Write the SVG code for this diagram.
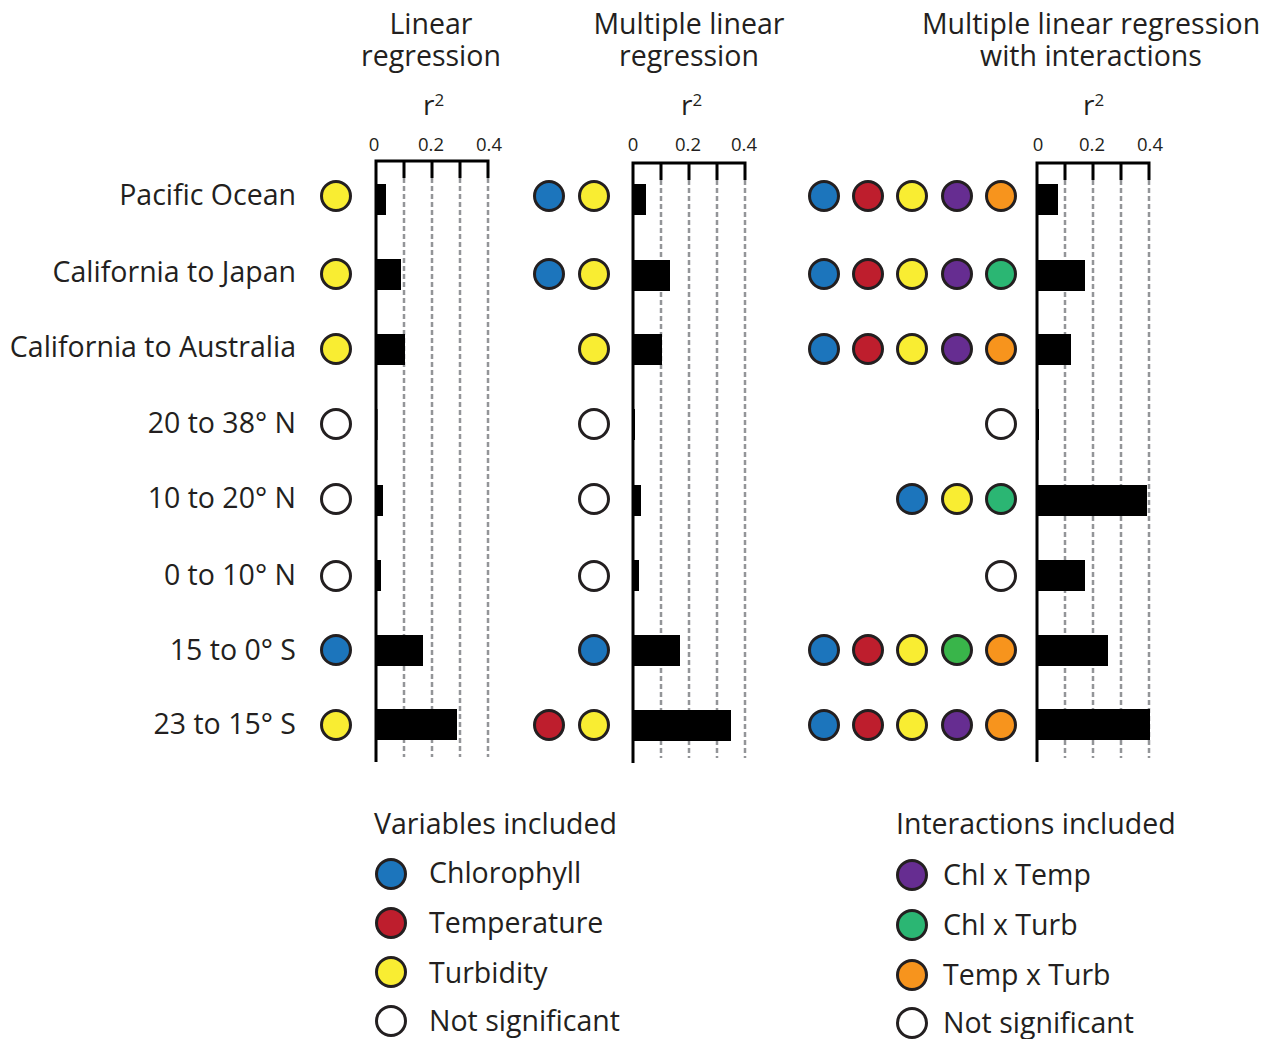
<svg xmlns="http://www.w3.org/2000/svg" width="1266" height="1039" viewBox="0 0 1266 1039">
<style>
text{font-family:"Open Sans","Liberation Sans",Arial,sans-serif;fill:#231f20}
.h{font-size:28.5px;text-anchor:middle}
.lab{font-size:28.5px;text-anchor:end}
.tk{font-size:18.5px;text-anchor:middle}
.rr{font-size:28px}
.leg{font-size:28.5px}
.ax{stroke:#000;stroke-width:3;fill:none}
.grid{stroke:#939598;stroke-width:2.5;stroke-dasharray:5 3;fill:none}
.bar{fill:#000}
.c{stroke:#231f20;stroke-width:3}
.bl{fill:#1c75bc}.rd{fill:#be1e2d}.ye{fill:#f9ed32}.pu{fill:#662d91}.or{fill:#f7941d}.tg{fill:#2bb673}.gr{fill:#39b54a}.wh{fill:#fff}
</style>
<rect width="1266" height="1039" fill="#fff"/>
<g id="headers">
<text class="h"><tspan x="431" y="34">Linear</tspan><tspan x="431" y="66">regression</tspan></text>
<text class="h"><tspan x="689" y="34">Multiple linear</tspan><tspan x="689" y="66">regression</tspan></text>
<text class="h"><tspan x="1091" y="34">Multiple linear regression</tspan><tspan x="1091" y="66">with interactions</tspan></text>
<text class="rr" x="423" y="115">r<tspan font-size="17" dy="-9">2</tspan></text>
<text class="rr" x="681" y="115">r<tspan font-size="17" dy="-9">2</tspan></text>
<text class="rr" x="1083" y="115">r<tspan font-size="17" dy="-9">2</tspan></text>
</g>
<g id="row-labels">
<text class="lab" x="296" y="205">Pacific Ocean</text>
<text class="lab" x="296" y="282">California to Japan</text>
<text class="lab" x="296" y="357">California to Australia</text>
<text class="lab" x="296" y="433">20 to 38° N</text>
<text class="lab" x="296" y="508">10 to 20° N</text>
<text class="lab" x="296" y="585">0 to 10° N</text>
<text class="lab" x="296" y="660">15 to 0° S</text>
<text class="lab" x="296" y="734">23 to 15° S</text>
</g>
<g id="panel1">
<path class="grid" d="M404 178V757M432 178V757M460 178V757M488 178V757"/>
<path class="ax" d="M376 161V762M374.5 161H489.5M404 161V178M432 161V178M460 161V178M488 161V178"/>
<text class="tk" x="374" y="151">0</text>
<text class="tk" x="431" y="151">0.2</text>
<text class="tk" x="489" y="151">0.4</text>
<rect class="bar" x="376" y="184" width="10" height="31"/>
<rect class="bar" x="376" y="259" width="25" height="31"/>
<rect class="bar" x="376" y="334" width="29" height="31"/>
<rect class="bar" x="376" y="409" width="1.5" height="31"/>
<rect class="bar" x="376" y="485" width="7" height="31"/>
<rect class="bar" x="376" y="560" width="5" height="31"/>
<rect class="bar" x="376" y="635" width="47" height="31"/>
<rect class="bar" x="376" y="709" width="81" height="31"/>
<circle class="c ye" cx="336" cy="196" r="14.5"/>
<circle class="c ye" cx="336" cy="274" r="14.5"/>
<circle class="c ye" cx="336" cy="349" r="14.5"/>
<circle class="c wh" cx="336" cy="424" r="14.5"/>
<circle class="c wh" cx="336" cy="499" r="14.5"/>
<circle class="c wh" cx="336" cy="576" r="14.5"/>
<circle class="c bl" cx="336" cy="650" r="14.5"/>
<circle class="c ye" cx="336" cy="725" r="14.5"/>
</g>
<g id="panel2">
<path class="grid" d="M661 180V758M689 180V758M717 180V758M745 180V758"/>
<path class="ax" d="M633 163V763M631.5 163H746.5M661 163V180M689 163V180M717 163V180M745 163V180"/>
<text class="tk" x="633" y="151">0</text>
<text class="tk" x="688" y="151">0.2</text>
<text class="tk" x="744" y="151">0.4</text>
<rect class="bar" x="633" y="184" width="13" height="31"/>
<rect class="bar" x="633" y="260" width="37" height="31"/>
<rect class="bar" x="633" y="334" width="29" height="31"/>
<rect class="bar" x="633" y="409" width="2" height="31"/>
<rect class="bar" x="633" y="485" width="8" height="31"/>
<rect class="bar" x="633" y="560" width="6" height="31"/>
<rect class="bar" x="633" y="635" width="47" height="31"/>
<rect class="bar" x="633" y="710" width="98" height="31"/>
<circle class="c bl" cx="549" cy="196" r="14.5"/>
<circle class="c ye" cx="594" cy="196" r="14.5"/>
<circle class="c bl" cx="549" cy="274" r="14.5"/>
<circle class="c ye" cx="594" cy="274" r="14.5"/>
<circle class="c ye" cx="594" cy="349" r="14.5"/>
<circle class="c wh" cx="594" cy="424" r="14.5"/>
<circle class="c wh" cx="594" cy="499" r="14.5"/>
<circle class="c wh" cx="594" cy="576" r="14.5"/>
<circle class="c bl" cx="594" cy="650" r="14.5"/>
<circle class="c rd" cx="549" cy="725" r="14.5"/>
<circle class="c ye" cx="594" cy="725" r="14.5"/>
</g>
<g id="panel3">
<path class="grid" d="M1065 180V758M1093 180V758M1121 180V758M1149 180V758"/>
<path class="ax" d="M1037 163V762M1035.5 163H1150.5M1065 163V180M1093 163V180M1121 163V180M1149 163V180"/>
<text class="tk" x="1038" y="151">0</text>
<text class="tk" x="1092" y="151">0.2</text>
<text class="tk" x="1150" y="151">0.4</text>
<rect class="bar" x="1037" y="184" width="21" height="31"/>
<rect class="bar" x="1037" y="260" width="48" height="31"/>
<rect class="bar" x="1037" y="334" width="34" height="31"/>
<rect class="bar" x="1037" y="409" width="2" height="31"/>
<rect class="bar" x="1037" y="485" width="110" height="31"/>
<rect class="bar" x="1037" y="560" width="48" height="31"/>
<rect class="bar" x="1037" y="635" width="71" height="31"/>
<rect class="bar" x="1037" y="709" width="113" height="31"/>
<circle class="c bl" cx="824" cy="196" r="14.5"/>
<circle class="c rd" cx="868" cy="196" r="14.5"/>
<circle class="c ye" cx="912" cy="196" r="14.5"/>
<circle class="c pu" cx="957" cy="196" r="14.5"/>
<circle class="c or" cx="1001" cy="196" r="14.5"/>
<circle class="c bl" cx="824" cy="274" r="14.5"/>
<circle class="c rd" cx="868" cy="274" r="14.5"/>
<circle class="c ye" cx="912" cy="274" r="14.5"/>
<circle class="c pu" cx="957" cy="274" r="14.5"/>
<circle class="c tg" cx="1001" cy="274" r="14.5"/>
<circle class="c bl" cx="824" cy="349" r="14.5"/>
<circle class="c rd" cx="868" cy="349" r="14.5"/>
<circle class="c ye" cx="912" cy="349" r="14.5"/>
<circle class="c pu" cx="957" cy="349" r="14.5"/>
<circle class="c or" cx="1001" cy="349" r="14.5"/>
<circle class="c wh" cx="1001" cy="424" r="14.5"/>
<circle class="c bl" cx="912" cy="499" r="14.5"/>
<circle class="c ye" cx="957" cy="499" r="14.5"/>
<circle class="c tg" cx="1001" cy="499" r="14.5"/>
<circle class="c wh" cx="1001" cy="576" r="14.5"/>
<circle class="c bl" cx="824" cy="650" r="14.5"/>
<circle class="c rd" cx="868" cy="650" r="14.5"/>
<circle class="c ye" cx="912" cy="650" r="14.5"/>
<circle class="c gr" cx="957" cy="650" r="14.5"/>
<circle class="c or" cx="1001" cy="650" r="14.5"/>
<circle class="c bl" cx="824" cy="725" r="14.5"/>
<circle class="c rd" cx="868" cy="725" r="14.5"/>
<circle class="c ye" cx="912" cy="725" r="14.5"/>
<circle class="c pu" cx="957" cy="725" r="14.5"/>
<circle class="c or" cx="1001" cy="725" r="14.5"/>
</g>
<g id="legend-variables">
<text class="leg" x="374" y="834">Variables included</text>
<circle class="c bl" cx="391" cy="874" r="14.5"/>
<text class="leg" x="429" y="883">Chlorophyll</text>
<circle class="c rd" cx="391" cy="923" r="14.5"/>
<text class="leg" x="429" y="933">Temperature</text>
<circle class="c ye" cx="391" cy="972" r="14.5"/>
<text class="leg" x="429" y="983">Turbidity</text>
<circle class="c wh" cx="391" cy="1021" r="14.5"/>
<text class="leg" x="429" y="1031">Not significant</text>
</g>
<g id="legend-interactions">
<text class="leg" x="896" y="834">Interactions included</text>
<circle class="c pu" cx="912" cy="875" r="14.5"/>
<text class="leg" x="943" y="885">Chl x Temp</text>
<circle class="c tg" cx="912" cy="925" r="14.5"/>
<text class="leg" x="943" y="935">Chl x Turb</text>
<circle class="c or" cx="912" cy="975" r="14.5"/>
<text class="leg" x="943" y="985">Temp x Turb</text>
<circle class="c wh" cx="912" cy="1023" r="14.5"/>
<text class="leg" x="943" y="1033">Not significant</text>
</g>
</svg>
